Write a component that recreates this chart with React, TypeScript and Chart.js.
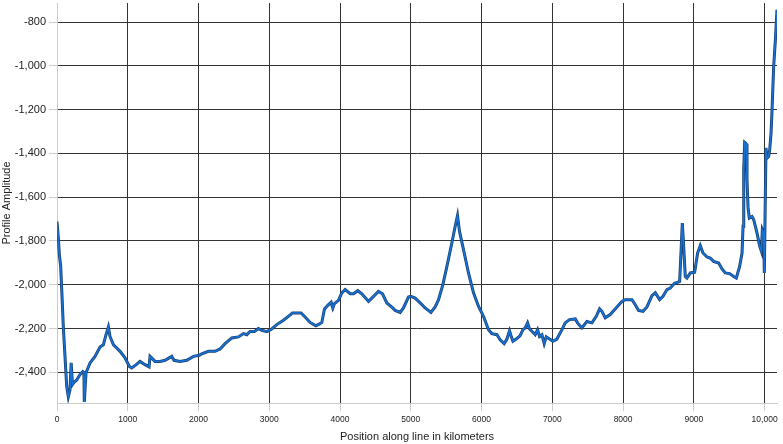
import React, { useEffect, useRef } from "react";
import { Chart, registerables } from "chart.js";

Chart.register(...registerables);

const positionsKm: number[] = [
  0, 20, 33, 52, 71, 89, 113, 137, 160, 184, 200, 218, 240, 278, 325, 365, 380, 386, 410, 467,
  537, 608, 655, 693, 726, 749, 797, 891, 961, 1023, 1056, 1120, 1173, 1244, 1301, 1315, 1386, 1456, 1527, 1621,
  1654, 1739, 1834, 1928, 2012, 2046, 2139, 2234, 2305, 2375, 2470, 2564, 2635, 2682, 2729, 2790, 2846, 2894, 2965, 3035,
  3106, 3200, 3270, 3327, 3450, 3506, 3577, 3658, 3705, 3742, 3780, 3837, 3874, 3898, 3921, 3978, 4025, 4072, 4143, 4190,
  4251, 4308, 4402, 4449, 4543, 4600, 4661, 4732, 4779, 4849, 4896, 4967, 5000, 5061, 5132, 5203, 5284, 5344, 5392, 5453,
  5510, 5580, 5627, 5660, 5688, 5745, 5815, 5886, 5957, 6027, 6098, 6146, 6217, 6263, 6320, 6358, 6395, 6419, 6443, 6490,
  6546, 6584, 6617, 6650, 6678, 6725, 6758, 6791, 6819, 6853, 6885, 6914, 6961, 7008, 7065, 7136, 7182, 7243, 7324, 7356,
  7417, 7489, 7560, 7621, 7668, 7701, 7748, 7818, 7913, 7984, 8031, 8125, 8172, 8219, 8281, 8337, 8408, 8455, 8517, 8564,
  8620, 8667, 8729, 8771, 8799, 8818, 8837, 8856, 8879, 8903, 8950, 9011, 9053, 9091, 9129, 9186, 9232, 9280, 9350, 9398,
  9444, 9506, 9562, 9600, 9647, 9681, 9695, 9705, 9718, 9738, 9751, 9766, 9784, 9822, 9846, 9893, 9931, 9954, 9968, 9987,
  9996, 10019, 10034, 10057, 10072, 10091, 10105, 10128, 10152, 10175,
];

const profileAmplitude: number[] = [
  -1712, -1790, -1862, -1916, -2053, -2190, -2327, -2464, -2512, -2480, -2357, -2456, -2446, -2435, -2410, -2396, -2400, -2535, -2402, -2357,
  -2327, -2284, -2274, -2228, -2193, -2236, -2274, -2304, -2334, -2373, -2380, -2365, -2350, -2365, -2375, -2327, -2350, -2350, -2345, -2327,
  -2345, -2350, -2345, -2327, -2322, -2315, -2304, -2304, -2293, -2269, -2243, -2238, -2223, -2228, -2213, -2213, -2200, -2208, -2214, -2202,
  -2182, -2162, -2144, -2129, -2129, -2147, -2172, -2187, -2180, -2172, -2110, -2091, -2080, -2106, -2086, -2071, -2037, -2022, -2041, -2041,
  -2027, -2041, -2076, -2061, -2030, -2041, -2083, -2102, -2117, -2126, -2106, -2056, -2053, -2061, -2083, -2106, -2126, -2101, -2068, -1999,
  -1916, -1809, -1733, -1684, -1756, -1840, -1946, -2037, -2099, -2144, -2205, -2223, -2228, -2251, -2269, -2248, -2210, -2235, -2258, -2248,
  -2232, -2205, -2197, -2174, -2202, -2217, -2228, -2205, -2236, -2228, -2269, -2238, -2248, -2258, -2248, -2205, -2174, -2159, -2156, -2174,
  -2197, -2168, -2174, -2144, -2110, -2121, -2151, -2136, -2101, -2076, -2068, -2068, -2091, -2117, -2121, -2101, -2050, -2037, -2068, -2053,
  -2022, -2015, -1992, -1989, -1985, -1855, -1718, -1825, -1962, -1969, -1946, -1943, -1855, -1821, -1855, -1873, -1878, -1893, -1901, -1928,
  -1946, -1949, -1962, -1969, -1916, -1855, -1733, -1474, -1350, -1356, -1520, -1649, -1695, -1688, -1703, -1764, -1825, -1847, -1749, -1764,
  -1946, -1375, -1421, -1414, -1383, -1307, -1200, -1003, -881, -744,
];

const xTickValues: number[] = [0, 1000, 2000, 3000, 4000, 5000, 6000, 7000, 8000, 9000, 10000];
const xTickLabels: string[] = ["0", "1000", "2000", "3000", "4000", "5000", "6000", "7000", "8000", "9000", "10,000"];
const yTickValues: number[] = [-2400, -2200, -2000, -1800, -1600, -1400, -1200, -1000, -800];
const yTickLabels: string[] = ["-2,400", "-2,200", "-2,000", "-1,800", "-1,600", "-1,400", "-1,200", "-1,000", "-800"];

const xTitle = "Position along line in kilometers";
const yTitle = "Profile Amplitude";

export default function App() {
  const canvasRef = useRef<HTMLCanvasElement | null>(null);

  useEffect(() => {
    if (!canvasRef.current) return;
    const points = positionsKm.map((x, i) => ({ x, y: profileAmplitude[i] }));
    const family = "Arial, 'Liberation Sans', sans-serif";
    const font = { family, size: 11 };
    const chart = new Chart(canvasRef.current, {
      type: "line",
      data: {
        datasets: [
          {
            label: "core",
            data: points,
            borderColor: "#1872d6",
            borderWidth: 1.6,
            pointRadius: 0,
            tension: 0,
            order: 0,
          },
          {
            label: "outline",
            data: points,
            borderColor: "#17406f",
            borderWidth: 3,
            pointRadius: 0,
            tension: 0,
            order: 1,
          },
        ],
      },
      options: {
        animation: false,
        responsive: false,
        maintainAspectRatio: false,
        layout: { padding: { top: 3, right: 6, left: 0, bottom: 0 } },
        plugins: { legend: { display: false }, tooltip: { enabled: false } },
        scales: {
          x: {
            type: "linear",
            min: 0,
            max: 10175,
            afterBuildTicks: (scale: any) => {
              scale.ticks = xTickValues.map((v) => ({ value: v }));
            },
            afterFit: (scale: any) => {
              scale.height = 41;
              scale.paddingLeft = 0;
              scale.paddingRight = 0;
            },
            ticks: {
              autoSkip: false,
              maxRotation: 0,
              padding: 4,
              color: "#222",
              font: { family, size: 8.5 },
              callback: (v: any) => {
                const i = xTickValues.indexOf(Number(v));
                return i >= 0 ? xTickLabels[i] : "";
              },
            },
            grid: { color: "#333", lineWidth: 1, tickColor: "#ccc", tickLength: 8 },
            border: { color: "#ccc", width: 1 },
            title: { display: true, text: xTitle, color: "#222", font, padding: { top: 2, bottom: 0 } },
          },
          y: {
            type: "linear",
            min: -2540,
            max: -713,
            afterBuildTicks: (scale: any) => {
              scale.ticks = yTickValues.map((v) => ({ value: v }));
            },
            afterFit: (scale: any) => {
              scale.width = 57;
              scale.paddingTop = 0;
              scale.paddingBottom = 0;
            },
            ticks: {
              autoSkip: false,
              padding: 3,
              color: "#222",
              font,
              callback: (v: any) => {
                const i = yTickValues.indexOf(Number(v));
                return i >= 0 ? yTickLabels[i] : "";
              },
            },
            grid: { color: "#333", lineWidth: 1, tickColor: "#ccc", tickLength: 8 },
            border: { color: "#ccc", width: 1 },
            title: { display: true, text: yTitle, color: "#222", font, padding: { top: 0, bottom: 0 } },
          },
        },
      },
    } as any);
    return () => chart.destroy();
  }, []);

  return (
    <div style={{ position: "absolute", left: 0, top: 0, width: 783, height: 444 }}>
      <canvas ref={canvasRef} width={783} height={444} style={{ width: 783, height: 444 }} />
    </div>
  );
}
